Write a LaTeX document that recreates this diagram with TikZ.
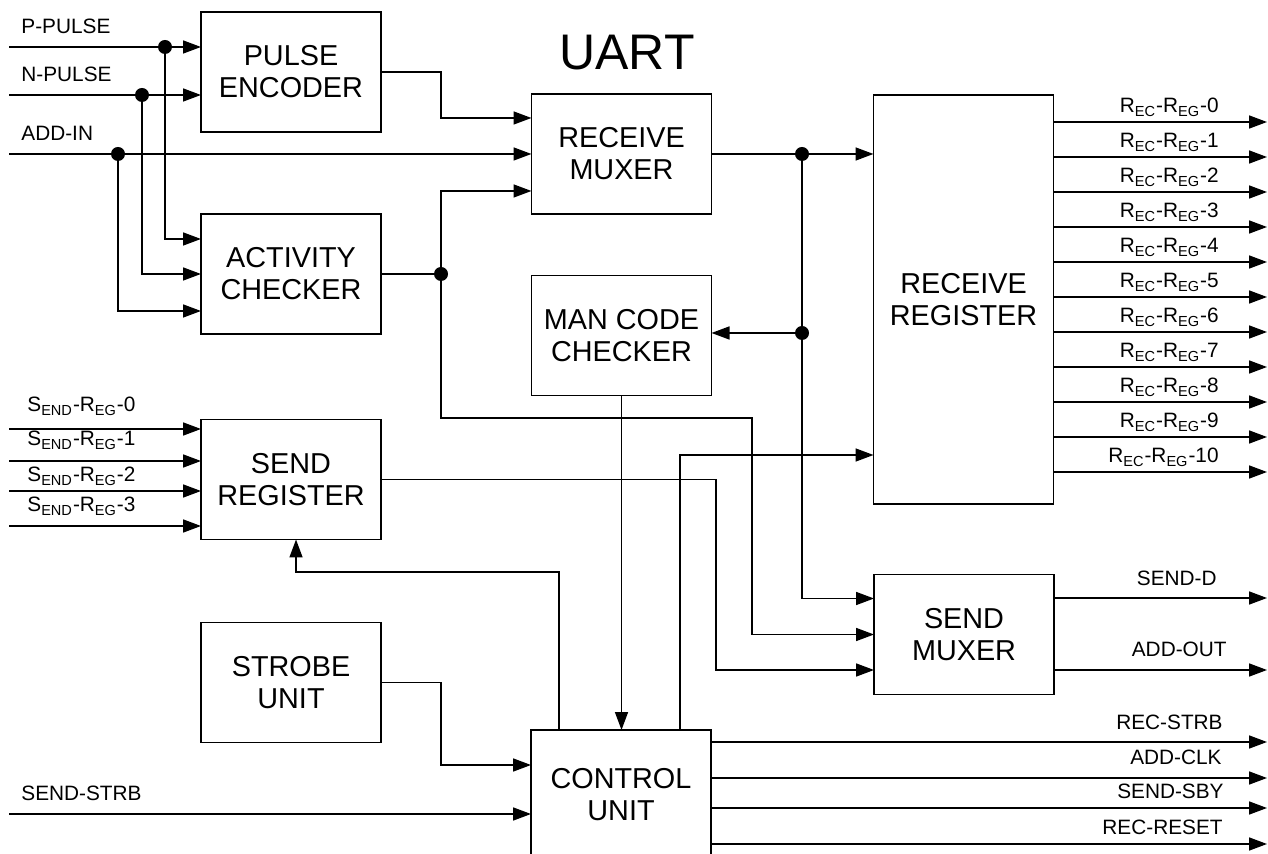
\documentclass[tikz,border=0pt]{standalone}
\usepackage{fontspec}
\setmainfont{Liberation Sans}
\usetikzlibrary{arrows.meta}
\begin{document}
\begin{tikzpicture}[x=0.5pt,y=-0.5pt,
 blk/.style={draw,line width=0.85pt,minimum width=90pt,minimum height=60pt,inner sep=0pt,outer sep=0pt,align=center,font=\fontsize{14.4}{16}\selectfont},
 wire/.style={line width=0.8pt},
 arr/.style={wire,-{Triangle[length=9pt,width=6.5pt]}},
 lab/.style={inner sep=0pt,font=\fontsize{10.4}{12}\selectfont},
 dot/.style={circle,fill,inner sep=0pt,minimum size=7pt}]
\useasboundingbox (0,0) rectangle (1268,854);
\clip (0,0) rectangle (1268,854);
% blocks
\node[blk] (pe) at (291,72) {PULSE\\ENCODER};
\node[blk] (ac) at (291,274) {ACTIVITY\\CHECKER};
\node[blk] (sr) at (291,479.5) {SEND\\REGISTER};
\node[blk] (su) at (291,682.5) {STROBE\\UNIT};
\node[blk] (rm) at (621.5,154) {RECEIVE\\MUXER};
\node[blk] (mc) at (621.5,335.5) {MAN CODE\\CHECKER};
\node[blk,minimum height=65pt] (cu) at (621,795) {CONTROL\\UNIT};
\node[blk,minimum height=204.5pt] (rr) at (963.5,299.5) {RECEIVE\\REGISTER};
\node[blk] (sm) at (964,634.5) {SEND\\MUXER};
\node[font=\fontsize{25}{30}\selectfont,anchor=base,inner sep=0pt] (title) at (627,70) {UART};
% input coordinates
\coordinate (inP) at (9,47);
\coordinate (inN) at (9,95);
\coordinate (inA) at (9,154);
\coordinate (jP) at (165,47);
\coordinate (jN) at (142,95);
\coordinate (jA) at (118,154);
\node[lab,anchor=base west] (lP) at (21,34) {P-PULSE};
\node[lab,anchor=base west] (lN) at (21,82) {N-PULSE};
\node[lab,anchor=base west] (lA) at (21,141) {ADD-IN};
\draw[arr] (inP) -- (inP -| pe.west);
\draw[arr] (inN) -- (inN -| pe.west);
\draw[arr] (inA) -- (inA -| rm.west);
\draw[arr] (jP) |- ([yshift=17.5pt]ac.west);
\draw[arr] (jN) |- (ac.west);
\draw[arr] (jA) |- ([yshift=-18.5pt]ac.west);
\node[dot] (dP) at (jP) {};
\node[dot] (dN) at (jN) {};
\node[dot] (dA) at (jA) {};
% pulse encoder -> receive muxer
\draw[arr] (pe.east) -- ++(30pt,0) |- ([yshift=18pt]rm.west);
% activity checker
\coordinate (jAC) at (441,274);
\draw[wire] (ac.east) -- (jAC);
\draw[arr] (jAC) |- ([yshift=-18.5pt]rm.west);
\draw[arr] (jAC) |- (752,418) |- (sm.west);
\node[dot] (dAC) at (jAC) {};
% receive muxer output
\coordinate (jR1) at (802,154);
\coordinate (jR2) at (802,333);
\draw[arr] (rm.east) -- (rm.east -| rr.west);
\draw[arr] (jR1) |- ([yshift=18pt]sm.west);
\draw[arr] (jR2) -- (jR2 -| mc.east);
\node[dot] (dR1) at (jR1) {};
\node[dot] (dR2) at (jR2) {};
% man code -> control
\draw[arr] (mc.south) -- (mc.south |- cu.north);
% control -> receive register
\draw[arr] ([xshift=29.5pt]cu.north) |- ([yshift=-77.75pt]rr.west);
% control -> send register feedback
\coordinate (fb) at (296,572);
\draw[arr] ([xshift=-31pt]cu.north) |- (fb) -- (fb |- sr.south);
% send register -> send muxer
\draw[arr] (sr.east) -- ++(167.5pt,0) |- ([yshift=-17.75pt]sm.west);
% strobe -> control
\draw[arr] (su.east) -- ++(30pt,0) |- ([yshift=15pt]cu.west);
% send strobe
\coordinate (inS) at (9,814);
\draw[arr] (inS) -- (inS -| cu.west);
\node[lab,anchor=base west] (lS) at (21,800) {SEND-STRB};
% send register inputs
\coordinate (s0) at (9,429);
\coordinate (s1) at (9,461);
\coordinate (s2) at (9,491);
\coordinate (s3) at (9,526);
\draw[arr] (s0) -- (s0 -| sr.west);
\draw[arr] (s1) -- (s1 -| sr.west);
\draw[arr] (s2) -- (s2 -| sr.west);
\draw[arr] (s3) -- (s3 -| sr.west);
\node[lab,anchor=base west] (ls0) at (27,412) {S\textsubscript{END}-R\textsubscript{EG}-0};
\node[lab,anchor=base west] (ls1) at (27,446) {S\textsubscript{END}-R\textsubscript{EG}-1};
\node[lab,anchor=base west] (ls2) at (27,482) {S\textsubscript{END}-R\textsubscript{EG}-2};
\node[lab,anchor=base west] (ls3) at (27,512) {S\textsubscript{END}-R\textsubscript{EG}-3};
% receive register outputs
\foreach \i in {0,...,10}{
  \pgfmathsetmacro\yy{122+35*\i}
  \pgfmathsetmacro\yl{113+35*\i}
  \coordinate (ro\i) at (1267,\yy);
  \draw[arr] (ro\i -| rr.east) -- (ro\i);
  \node[lab,anchor=base east] (lr\i) at (1219,\yl) {R\textsubscript{EC}-R\textsubscript{EG}-\i};
}
% send muxer outputs
\coordinate (oD) at (1267,598);
\coordinate (oA) at (1267,670);
\draw[arr] (oD -| sm.east) -- (oD);
\draw[arr] (oA -| sm.east) -- (oA);
\node[lab,anchor=base east] (lD) at (1217,586) {SEND-D};
\node[lab,anchor=base east] (lAO) at (1227,657) {ADD-OUT};
% control outputs
\coordinate (c1) at (1267,742);
\coordinate (c2) at (1267,778);
\coordinate (c3) at (1267,808);
\coordinate (c4) at (1267,844);
\draw[arr] (c1 -| cu.east) -- (c1);
\draw[arr] (c2 -| cu.east) -- (c2);
\draw[arr] (c3 -| cu.east) -- (c3);
\draw[arr] (c4 -| cu.east) -- (c4);
\node[lab,anchor=base east] (lc1) at (1223,729) {REC-STRB};
\node[lab,anchor=base east] (lc2) at (1222,764) {ADD-CLK};
\node[lab,anchor=base east] (lc3) at (1224,798) {SEND-SBY};
\node[lab,anchor=base east] (lc4) at (1223,834) {REC-RESET};
\end{tikzpicture}
\end{document}
